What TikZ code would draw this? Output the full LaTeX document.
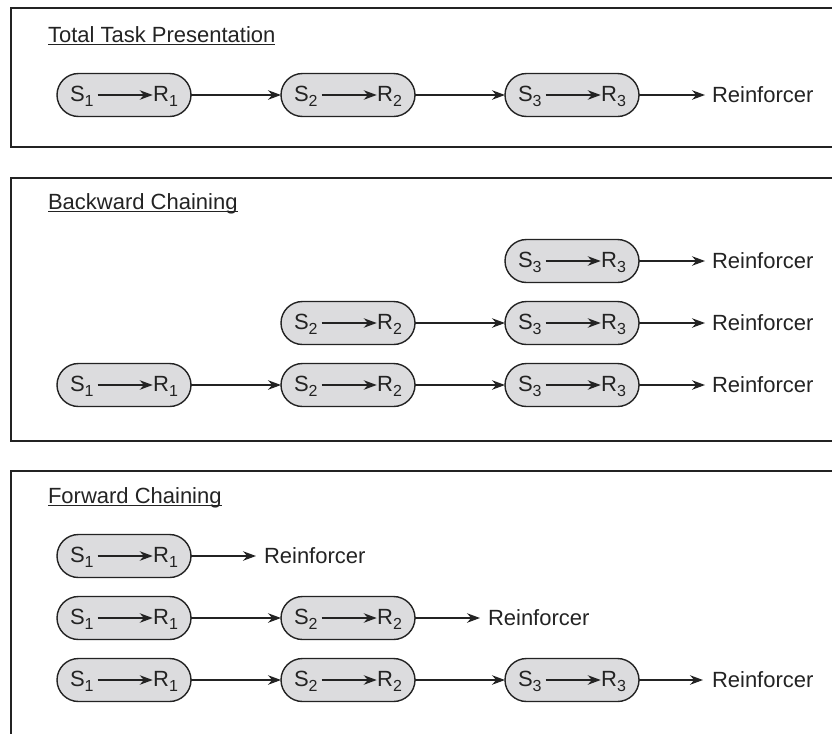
\documentclass[tikz,border=0pt]{standalone}
\usepackage{fontspec}
\setmainfont{Liberation Sans}
\usetikzlibrary{calc,arrows.meta}
\definecolor{pillfill}{RGB}{220,220,222}
\definecolor{ink}{RGB}{35,35,35}
\newcommand\subs[1]{\raisebox{-5pt}{\fontsize{16}{16}\selectfont #1}}
\tikzset{
  txt/.style={inner sep=0pt, outer sep=0pt, text=ink, font=\fontsize{22}{25}\selectfont},
  pill/.style={draw=ink, line width=1.4pt, fill=pillfill, rounded corners=21.5pt,
    minimum width=134pt, minimum height=43pt, inner sep=0pt, outer sep=0pt},
  arr/.style={draw=ink, line width=1.2pt, -{Stealth[length=13pt,width=9.5pt]}},
  panel/.style={draw=ink, line width=1.8pt},
  uline/.style={draw=ink, line width=1pt},
}
\newcommand\mkpill[4]{%
  \node[pill] (#1) at (#2,#3) {};
  \node[txt,anchor=base west] (#1s) at ($(#1.west)+(13,6)$) {S\subs{#4}};
  \node[txt,anchor=base east] (#1r) at ($(#1.east)+(-13,6)$) {R\subs{#4}};
  \draw[arr,shorten <=4pt,shorten >=0.5pt] (#1s.east |- #1.center) -- (#1r.west |- #1.center);
}
\begin{document}
\begin{tikzpicture}[x=1pt,y=-1pt]
\useasboundingbox (0,0) rectangle (832,734);

% panels
\draw[panel] (832,8) -- (11,8) -- (11,147) -- (832,147);
\draw[panel] (832,178) -- (11,178) -- (11,441) -- (832,441);
\draw[panel] (832,471) -- (11,471) -- (11,734);

% titles
\node[txt,anchor=base west] (t1) at (48,42) {Total Task Presentation};
\draw[uline] ([yshift=-2.5pt]t1.base west) -- ([yshift=-2.5pt]t1.base east);
\node[txt,anchor=base west] (t2) at (48,209) {Backward Chaining};
\draw[uline] ([yshift=-2.5pt]t2.base west) -- ([yshift=-2.5pt]t2.base east);
\node[txt,anchor=base west] (t3) at (48,503) {Forward Chaining};
\draw[uline] ([yshift=-2.5pt]t3.base west) -- ([yshift=-2.5pt]t3.base east);

% Total task presentation
\mkpill{a1}{124}{95}{1}
\mkpill{a2}{348}{95}{2}
\mkpill{a3}{572}{95}{3}
\node[txt,anchor=west] (ar) at (712,95) {Reinforcer};
\draw[arr] (a1) -- (a2);
\draw[arr] (a2) -- (a3);
\draw[arr,shorten >=7pt] (a3) -- (ar);

% Backward chaining
\mkpill{b13}{572}{261}{3}
\node[txt,anchor=west] (b1r) at (712,261) {Reinforcer};
\draw[arr,shorten >=7pt] (b13) -- (b1r);

\mkpill{b22}{348}{323}{2}
\mkpill{b23}{572}{323}{3}
\node[txt,anchor=west] (b2r) at (712,323) {Reinforcer};
\draw[arr] (b22) -- (b23);
\draw[arr,shorten >=7pt] (b23) -- (b2r);

\mkpill{b31}{124}{385}{1}
\mkpill{b32}{348}{385}{2}
\mkpill{b33}{572}{385}{3}
\node[txt,anchor=west] (b3r) at (712,385) {Reinforcer};
\draw[arr] (b31) -- (b32);
\draw[arr] (b32) -- (b33);
\draw[arr,shorten >=7pt] (b33) -- (b3r);

% Forward chaining
\mkpill{f11}{124}{556}{1}
\node[txt,anchor=west] (f1r) at (264,556) {Reinforcer};
\draw[arr,shorten >=8pt] (f11) -- (f1r);

\mkpill{f21}{124}{618}{1}
\mkpill{f22}{348}{618}{2}
\node[txt,anchor=west] (f2r) at (488,618) {Reinforcer};
\draw[arr] (f21) -- (f22);
\draw[arr,shorten >=8pt] (f22) -- (f2r);

\mkpill{f31}{124}{680}{1}
\mkpill{f32}{348}{680}{2}
\mkpill{f33}{572}{680}{3}
\node[txt,anchor=west] (f3r) at (712,680) {Reinforcer};
\draw[arr] (f31) -- (f32);
\draw[arr] (f32) -- (f33);
\draw[arr,shorten >=9pt] (f33) -- (f3r);
\end{tikzpicture}
\end{document}
